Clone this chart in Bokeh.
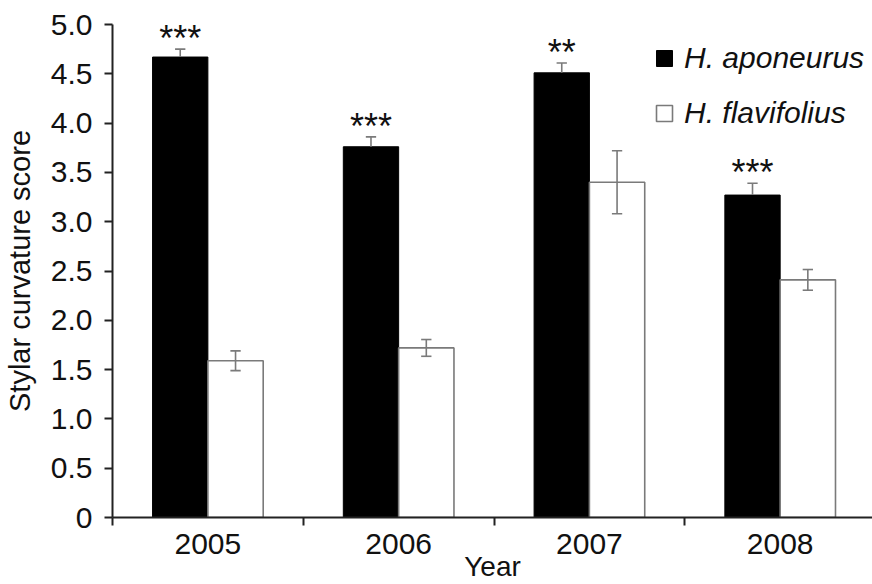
import numpy as np
from bokeh.plotting import figure
from bokeh.models import Range1d, FixedTicker, Legend, LegendItem
from bokeh.core.properties import value
from bokeh.embed import file_html
from bokeh.resources import INLINE

# ---- data ----
years = ["2005", "2006", "2007", "2008"]
apo_mean = [4.67, 3.76, 4.51, 3.27]
apo_err = [0.08, 0.10, 0.10, 0.12]
flav_mean = [1.59, 1.72, 3.40, 2.41]
flav_err = [0.10, 0.085, 0.32, 0.105]
signif = ["***", "***", "**", "***"]
y_ticks = [0, 0.5, 1.0, 1.5, 2.0, 2.5, 3.0, 3.5, 4.0, 4.5, 5.0]

FONT = "Liberation Sans"
GRAY = "#7a7a7a"
TXT = "#111111"

idx = np.arange(len(years))
centers = idx + 0.5
bw = 0.29
x_apo = centers - bw / 2
x_flav = centers + bw / 2
cap = 0.027

apo_mean_a = np.array(apo_mean)
apo_err_a = np.array(apo_err)
flav_mean_a = np.array(flav_mean)
flav_err_a = np.array(flav_err)

p = figure(width=872, height=584, output_backend="svg", toolbar_location=None,
           x_range=Range1d(0, 3.984), y_range=Range1d(0, 5.0),
           min_border_left=111, min_border_right=0, min_border_top=24,
           min_border_bottom=67)
p.outline_line_color = None
p.grid.visible = False
p.background_fill_color = "white"
p.border_fill_color = "white"

r_apo = p.vbar(x=x_apo, top=apo_mean, width=bw, bottom=0,
               fill_color="black", line_color="black", line_width=1)
r_flav = p.vbar(x=x_flav, top=flav_mean, width=bw, bottom=0,
                fill_color="white", line_color=GRAY, line_width=1.6)

# error bars (upper half only visible above black bars)
p.segment(x0=x_apo, y0=apo_mean_a, x1=x_apo, y1=apo_mean_a + apo_err_a,
          line_color=GRAY, line_width=1.6)
p.segment(x0=x_apo - cap, y0=apo_mean_a + apo_err_a, x1=x_apo + cap,
          y1=apo_mean_a + apo_err_a, line_color=GRAY, line_width=1.6)
p.segment(x0=x_flav, y0=flav_mean_a - flav_err_a, x1=x_flav,
          y1=flav_mean_a + flav_err_a, line_color=GRAY, line_width=1.6)
p.segment(x0=x_flav - cap, y0=flav_mean_a + flav_err_a, x1=x_flav + cap,
          y1=flav_mean_a + flav_err_a, line_color=GRAY, line_width=1.6)
p.segment(x0=x_flav - cap, y0=flav_mean_a - flav_err_a, x1=x_flav + cap,
          y1=flav_mean_a - flav_err_a, line_color=GRAY, line_width=1.6)

# significance stars
p.text(x=x_apo, y=apo_mean_a + apo_err_a + 0.11, text=signif,
       text_align="center", text_baseline="alphabetic",
       text_font=value(FONT), text_font_size="36px", text_color=TXT)

# axes
xa = p.xaxis[0]
xa.ticker = FixedTicker(ticks=list(centers), minor_ticks=list(np.arange(len(years) + 1)))
xa.major_label_overrides = {float(c): y for c, y in zip(centers, years)}
xa.major_tick_out = 0
xa.major_tick_in = 0
xa.minor_tick_out = 8
xa.minor_tick_in = 0
xa.minor_tick_line_color = "#222222"
xa.minor_tick_line_width = 2
xa.axis_line_color = "#222222"
xa.axis_line_width = 2
xa.major_label_text_font = FONT
xa.major_label_text_font_size = "30px"
xa.major_label_text_color = TXT
xa.major_label_standoff = 8
xa.axis_label = "Year"
xa.axis_label_text_font = FONT
xa.axis_label_text_font_size = "28px"
xa.axis_label_text_font_style = "normal"
xa.axis_label_text_color = TXT
xa.axis_label_standoff = -6

ya = p.yaxis[0]
ya.ticker = FixedTicker(ticks=y_ticks, minor_ticks=[])
ya.major_label_overrides = {float(t): ("0" if t == 0 else f"{t:.1f}") for t in y_ticks}
ya.major_tick_out = 8
ya.major_tick_in = 0
ya.major_tick_line_color = "#222222"
ya.major_tick_line_width = 2
ya.minor_tick_out = 0
ya.minor_tick_in = 0
ya.axis_line_color = "#222222"
ya.axis_line_width = 2
ya.major_label_text_font = FONT
ya.major_label_text_font_size = "30px"
ya.major_label_text_color = TXT
ya.major_label_standoff = 12
ya.axis_label = "Stylar curvature score"
ya.axis_label_text_font = FONT
ya.axis_label_text_font_size = "29px"
ya.axis_label_text_font_style = "normal"
ya.axis_label_text_color = TXT
ya.axis_label_standoff = 12

legend = Legend(items=[LegendItem(label="H. aponeurus", renderers=[r_apo]),
                       LegendItem(label="H. flavifolius", renderers=[r_flav])],
                location=(542, 387), orientation="vertical")
legend.label_text_font = FONT
legend.label_text_font_size = "30px"
legend.label_text_font_style = "italic"
legend.label_text_color = TXT
legend.glyph_width = 20
legend.glyph_height = 20
legend.label_standoff = 10
legend.spacing = 21
legend.padding = 0
legend.margin = 0
legend.border_line_color = None
legend.background_fill_alpha = 0
p.add_layout(legend)

open("out.html", "w").write(file_html(p, INLINE))
